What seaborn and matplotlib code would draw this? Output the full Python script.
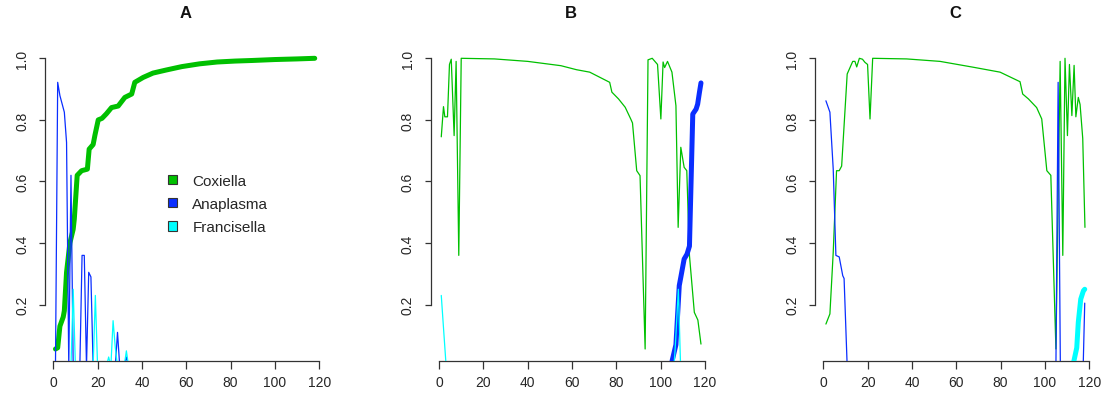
import matplotlib
matplotlib.use("Agg")
import numpy as np
import pandas as pd
from matplotlib import pyplot as plt
from matplotlib.patches import Patch
import seaborn as sns

species = ["Coxiella", "Anaplasma", "Francisella"]
colors = {"Coxiella": "#00C000", "Anaplasma": "#0A2EFF", "Francisella": "#00FFFF"}
panels = ["A", "B", "C"]
highlight = {"A": "Coxiella", "B": "Anaplasma", "C": "Francisella"}
x_ticks = [0, 20, 40, 60, 80, 100, 120]
y_ticks = [0.2, 0.4, 0.6, 0.8, 1.0]
y_labels = ["0.2", "0.4", "0.6", "0.8", "1.0"]

# A
a_cox_x = [1, 2, 3, 4.5, 5, 6, 7.5, 9, 9.5, 10.8, 12.8, 15.4, 16.2, 18, 18.8, 20.3, 22, 24, 26.3, 29.3,
           32.3, 35.4, 36.8, 40.6, 45, 51, 58, 66, 74, 82, 90, 100, 110, 118]
a_cox_y = [0.056, 0.06, 0.13, 0.16, 0.18, 0.305, 0.40, 0.445, 0.478, 0.62, 0.635, 0.64, 0.705, 0.72, 0.75,
           0.80, 0.805, 0.82, 0.84, 0.845, 0.873, 0.884, 0.922, 0.938, 0.952, 0.962, 0.973, 0.982, 0.988,
           0.991, 0.993, 0.996, 0.998, 1.0]
a_ana_x = [1, 2, 3, 5, 6, 7, 8, 9, 12, 13, 14, 15, 16, 17, 18, 28, 29, 30, 32, 33, 34, 118]
a_ana_y = [0.0, 0.922, 0.879, 0.825, 0.727, 0.0, 0.62, 0.0, 0.0, 0.36, 0.36, 0.0, 0.305, 0.29, 0.0,
           0.0, 0.11, 0.0, 0.0, 0.03, 0.0, 0.0]
a_fra_x = [1, 8, 9, 10, 18, 19, 20, 24, 25, 26, 27, 28, 29, 32, 33, 34, 118]
a_fra_y = [0, 0, 0.25, 0, 0, 0.23, 0, 0, 0.03, 0, 0.148, 0.06, 0, 0, 0.05, 0, 0]

# B
b_cox_x = [1, 2, 2.6, 3.8, 4.7, 5.5, 6.8, 7.7, 8.9, 10, 25, 40, 55, 62, 68, 74, 77, 78, 81, 84,
           86.5, 87.3, 89.2, 90.7, 93, 94.3, 96.2, 98.6, 100.1, 101.1, 101.8, 103.1, 105.1, 106.9,
           107.9, 109.1, 110.6, 111.8, 113, 115.2, 116.8, 118.2]
b_cox_y = [0.745, 0.843, 0.81, 0.81, 0.98, 0.997, 0.749, 0.99, 0.36, 1.0, 0.998, 0.99, 0.976, 0.963,
           0.955, 0.933, 0.922, 0.89, 0.868, 0.841, 0.803, 0.79, 0.635, 0.619, 0.056, 0.995, 1.0, 0.98,
           0.803, 0.988, 0.97, 0.99, 0.955, 0.846, 0.451, 0.711, 0.646, 0.635, 0.36, 0.175, 0.15, 0.072]
b_ana_x = [1, 104.6, 106.9, 108.4, 109.1, 110.6, 111.9, 113, 114.5, 116, 116.7, 117.5, 118.2]
b_ana_y = [0, 0, 0.07, 0.262, 0.289, 0.348, 0.364, 0.39, 0.819, 0.835, 0.851, 0.889, 0.92]
b_fra_x = [1, 2, 3.2, 106, 106.5, 108, 109, 118]
b_fra_y = [0.23, 0.125, 0, 0, 0.05, 0.25, 0, 0]

# C
c_cox_x = [1.2, 3, 4.5, 6, 7.2, 8.3, 10.8, 13.3, 14.3, 15.1, 16.3, 17.7, 18.8, 20, 21.1, 22.3, 37.6,
           52.7, 67.7, 79.8, 88.8, 90, 92.6, 96.3, 98.6, 100.9, 102.7, 105, 106.9, 108.1, 109.1, 110.2,
           111.1, 112.2, 113.2, 114, 115.1, 115.9, 117.1, 118.1]
c_cox_y = [0.137, 0.17, 0.37, 0.635, 0.635, 0.65, 0.949, 0.99, 0.99, 0.972, 1.0, 0.997, 0.987, 0.98,
           0.803, 1.0, 0.998, 0.99, 0.971, 0.955, 0.924, 0.884, 0.868, 0.84, 0.803, 0.635, 0.62, 0.056,
           0.99, 0.36, 1.0, 0.749, 0.98, 0.814, 0.977, 0.81, 0.873, 0.85, 0.74, 0.451]
c_ana_x = [1.2, 3, 4.5, 5.7, 7.2, 8.8, 9.4, 10.8, 105, 106, 107, 117.3, 118]
c_ana_y = [0.862, 0.825, 0.64, 0.36, 0.355, 0.294, 0.285, 0, 0, 0.922, 0, 0, 0.205]
c_fra_x = [1, 112.6, 114.4, 115.1, 116.2, 117.4, 118]
c_fra_y = [0, 0, 0.06, 0.143, 0.218, 0.245, 0.25]

series = {
    ("A", "Coxiella"): (a_cox_x, a_cox_y), ("A", "Anaplasma"): (a_ana_x, a_ana_y),
    ("A", "Francisella"): (a_fra_x, a_fra_y),
    ("B", "Coxiella"): (b_cox_x, b_cox_y), ("B", "Anaplasma"): (b_ana_x, b_ana_y),
    ("B", "Francisella"): (b_fra_x, b_fra_y),
    ("C", "Coxiella"): (c_cox_x, c_cox_y), ("C", "Anaplasma"): (c_ana_x, c_ana_y),
    ("C", "Francisella"): (c_fra_x, c_fra_y),
}
df = pd.concat([pd.DataFrame({"x": xs, "y": ys, "panel": p, "species": s})
                for (p, s), (xs, ys) in series.items()], ignore_index=True)

# drawing order per panel (later = on top)
order = {"A": ["Coxiella", "Anaplasma", "Francisella"],
         "B": ["Coxiella", "Anaplasma", "Francisella"],
         "C": ["Coxiella", "Francisella", "Anaplasma"]}

sns.set_style("white")
plt.rcParams["font.family"] = ["Liberation Sans", "DejaVu Sans"]

W, H = 1106, 402
fig = plt.figure(figsize=(W / 100, H / 100), dpi=100)
lefts = [45.1, 430.9, 815.1]
ink = "#333333"

for p, left in zip(panels, lefts):
    ax = fig.add_axes([left / W, 40.3 / H, 280 / W, 314.1 / H])
    for z, s in enumerate(order[p]):
        sub = df[(df.panel == p) & (df.species == s)]
        thick = highlight[p] == s
        sns.lineplot(data=sub, x="x", y="y", ax=ax, color=colors[s], estimator=None, sort=False,
                     linewidth=3.6 if thick else 0.9, zorder=2 + z,
                     solid_capstyle="round", solid_joinstyle="round")
    ax.set_xlim(-3.68, 122.68)
    ax.set_ylim(0.018, 1.038)
    ax.set_xlabel("")
    ax.set_ylabel("")
    ax.set_xticks(x_ticks)
    ax.set_yticks(y_ticks)
    ax.set_yticklabels(y_labels, rotation=90, va="center")
    for sp in ["top", "right"]:
        ax.spines[sp].set_visible(False)
    for sp in ["left", "bottom"]:
        ax.spines[sp].set_color(ink)
        ax.spines[sp].set_linewidth(0.9)
    ax.spines["left"].set_bounds(0.2, 1.0)
    ax.spines["bottom"].set_bounds(0, 120)
    ax.tick_params(axis="x", direction="out", length=6, width=0.9, color=ink, pad=4,
                   labelsize=10, labelcolor="#262626", bottom=True)
    ax.tick_params(axis="y", direction="out", length=4.5, width=0.9, color=ink, pad=7,
                   labelsize=10, labelcolor="#262626", left=True)
    fig.text((left + 140) / W, 1 - 14 / H, p, ha="center", va="center",
             fontsize=12, fontweight="bold", color="#111111")
    if p == "A":
        handles = [Patch(facecolor=colors[s], edgecolor=ink, linewidth=0.8) for s in species]
        leg = ax.legend(handles, species, loc="center left", bbox_to_anchor=(0.4386, 0.499),
                        frameon=False, fontsize=11, handlelength=0.6, handleheight=0.6,
                        handletextpad=1.0, labelspacing=0.6, borderpad=0, borderaxespad=0)
        for t in leg.get_texts():
            t.set_color("#262626")

fig.savefig("out.png", dpi=100)
